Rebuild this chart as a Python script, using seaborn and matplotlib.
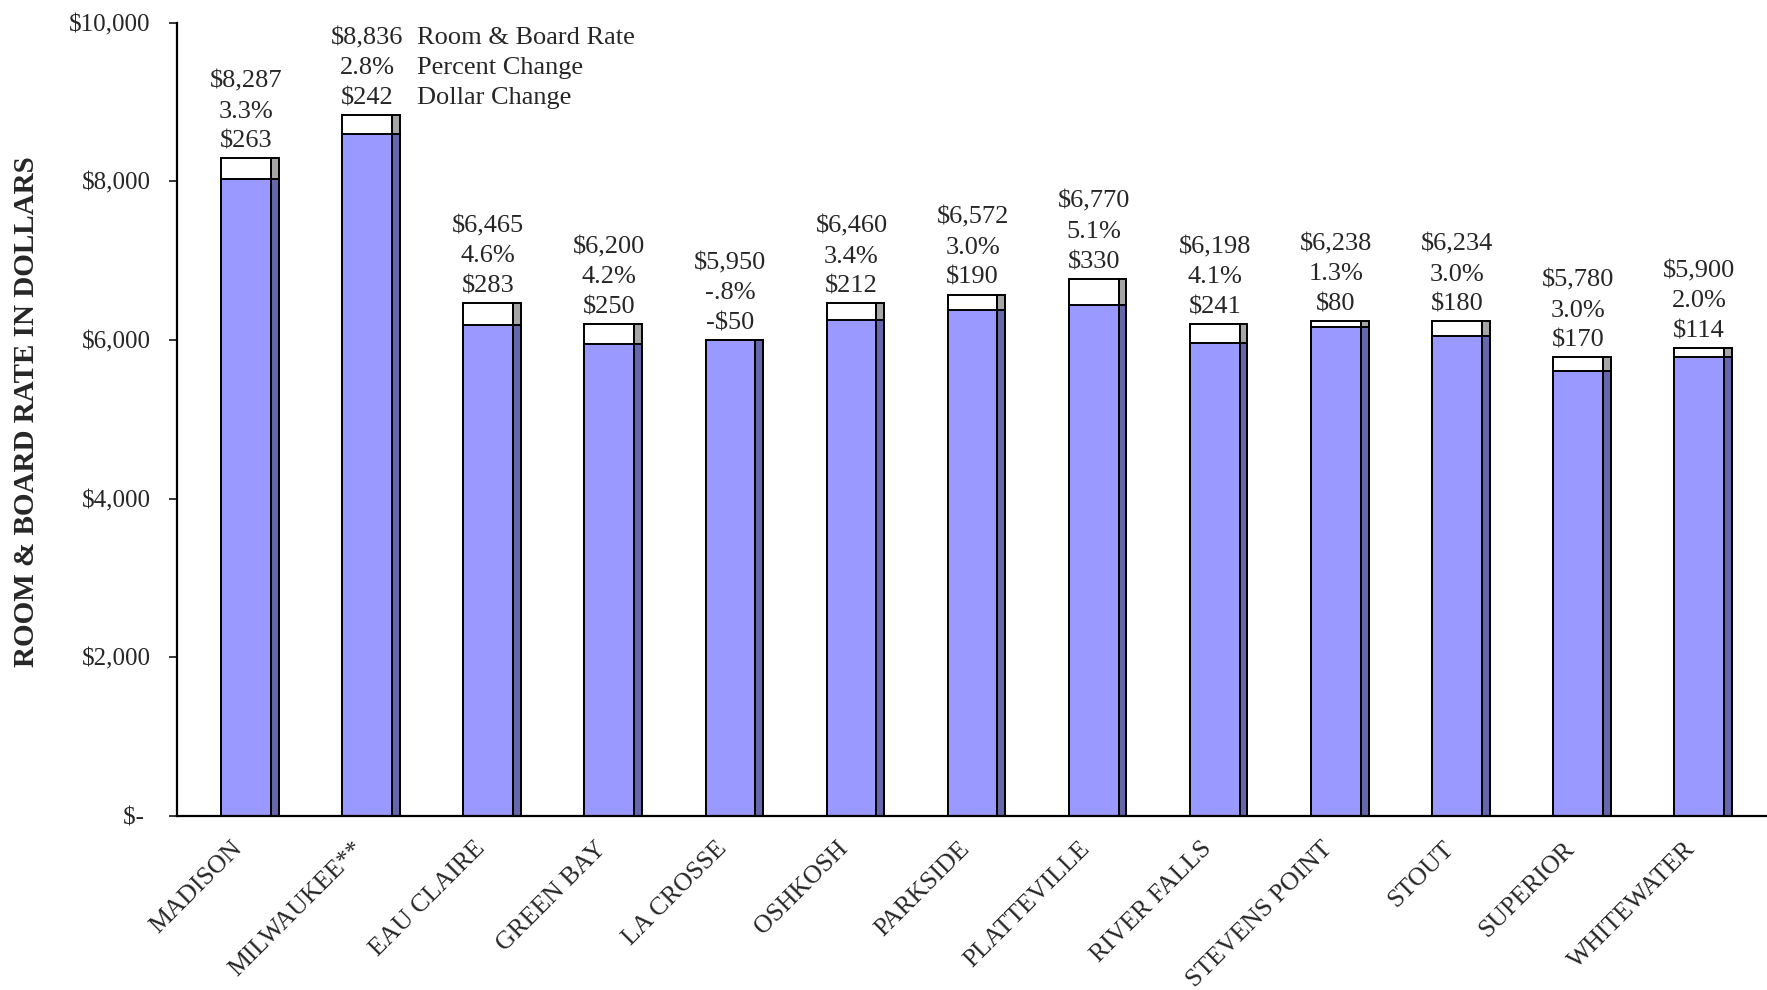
import numpy as np
import pandas as pd
import matplotlib
matplotlib.use("Agg")
import matplotlib.pyplot as plt
import seaborn as sns

# ---- data ----
campuses = ["MADISON", "MILWAUKEE**", "EAU CLAIRE", "GREEN BAY", "LA CROSSE", "OSHKOSH",
            "PARKSIDE", "PLATTEVILLE", "RIVER FALLS", "STEVENS POINT", "STOUT",
            "SUPERIOR", "WHITEWATER"]
rates = [8287, 8836, 6465, 6200, 5950, 6460, 6572, 6770, 6198, 6238, 6234, 5780, 5900]
pct_change = ["3.3%", "2.8%", "4.6%", "4.2%", "-.8%", "3.4%", "3.0%", "5.1%", "4.1%",
              "1.3%", "3.0%", "3.0%", "2.0%"]
dollar_change = [263, 242, 283, 250, -50, 212, 190, 330, 241, 80, 180, 170, 114]
y_ticks = [0, 2000, 4000, 6000, 8000, 10000]
y_tick_labels = ["$- ", "$2,000", "$4,000", "$6,000", "$8,000", "$10,000"]
legend_lines = ["Room & Board Rate", "Percent Change", "Dollar Change"]

sns.set_style("white")
plt.rcParams["font.family"] = ["Liberation Serif", "DejaVu Serif"]

W, H = 1767, 990
fig = plt.figure(figsize=(W / 100, H / 100), dpi=100)
ax = fig.add_axes([177 / W, 174 / H, 1 - 177 / W, (816 - 22.5) / H])

n = len(campuses)
pos = np.arange(n, dtype=float)
base = [r - c for r, c in zip(rates, dollar_change)]
top = [max(r, b) for r, b in zip(rates, base)]

front_w = 0.41
side_w = 0.065
side_pos = pos + front_w / 2 + side_w / 2

df = pd.DataFrame({"pos": pos, "side": side_pos, "base": base, "top": top})

lw = 1.4
common = dict(native_scale=True, errorbar=None, saturation=1, edgecolor="black",
              linewidth=lw, ax=ax)
# front face: white segment (change) then blue segment (previous rate)
sns.barplot(data=df, x="pos", y="top", color="white", width=front_w, **common)
sns.barplot(data=df, x="pos", y="base", color="#9999FF", width=front_w, **common)
# side face
sns.barplot(data=df, x="side", y="top", color="#A6A6A6", width=side_w, **common)
sns.barplot(data=df, x="side", y="base", color="#6666AA", width=side_w, **common)

fs = 19
ls = 1.48
for i in range(n):
    r = rates[i]
    ch = dollar_change[i]
    ch_s = f"-${abs(ch):,}" if ch < 0 else f"${ch:,}"
    txt = f"${r:,}\n{pct_change[i]}\n{ch_s}"
    ax.annotate(txt, xy=(pos[i], top[i]), xytext=(0, 4), textcoords="offset points",
                ha="center", va="bottom", multialignment="center", fontsize=fs,
                linespacing=ls)
    if i == 1:
        ax.annotate("\n".join(legend_lines), xy=(pos[i], top[i]), xytext=(36, 4),
                    textcoords="offset points", ha="left", va="bottom",
                    multialignment="left", fontsize=fs, linespacing=ls)

ax.set_xlim(-0.57, 12.56)
ax.set_ylim(0, 10000)
ax.set_yticks(y_ticks)
ax.set_yticklabels(y_tick_labels, fontsize=18)
ax.set_xticks(pos)
ax.set_xticklabels([])
ax.tick_params(axis="x", length=0)
# category labels, rotated like the original
for i, name in enumerate(campuses):
    ax.annotate(name, xy=(pos[i], 0), xycoords=("data", "axes fraction"),
                xytext=(-10.5, -15.5), textcoords="offset points", rotation=45,
                ha="right", va="top", rotation_mode="anchor", fontsize=18.5)
ax.tick_params(axis="y", length=6, width=1.3, direction="out", pad=13, left=True)
ax.set_xlabel("")
ax.set_ylabel("ROOM & BOARD RATE IN DOLLARS", fontsize=21, fontweight="bold")
ax.yaxis.set_label_coords(-0.086, 0.51)

for s in ["top", "right"]:
    ax.spines[s].set_visible(False)
for s in ["left", "bottom"]:
    ax.spines[s].set_color("black")
    ax.spines[s].set_linewidth(1.6)
ax.grid(False)

fig.savefig("out.png", dpi=100)
